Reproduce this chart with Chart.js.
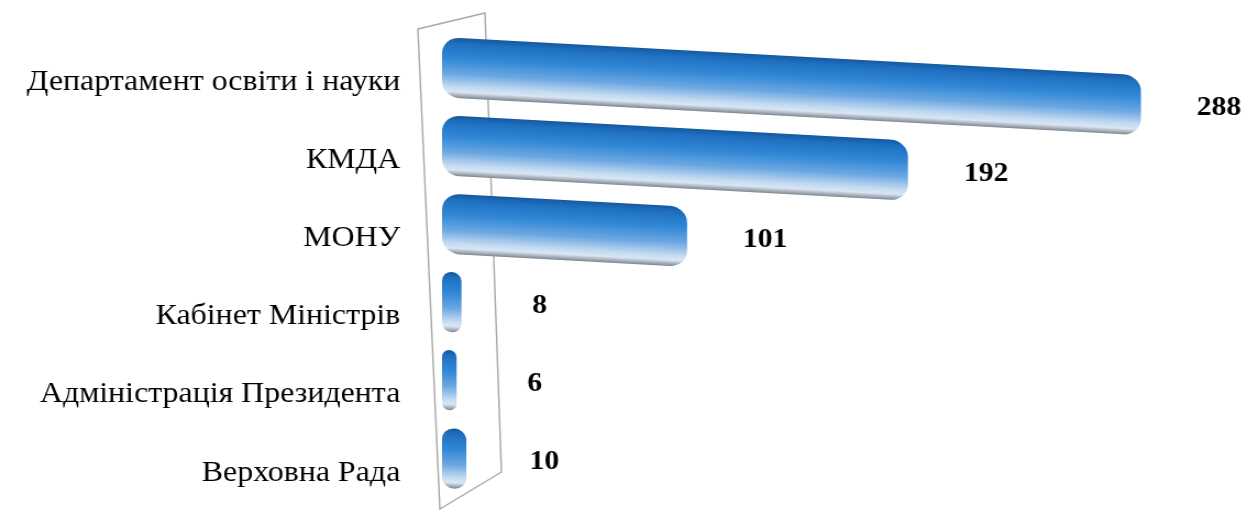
<!DOCTYPE html>
<html>
<head>
<meta charset="utf-8">
<script src="https://cdn.jsdelivr.net/npm/chart.js@4/dist/chart.umd.min.js"></script>
<style>
  html,body{margin:0;padding:0;background:#fff;overflow:hidden;}
  #c{display:block;width:1247px;height:510px;}
</style>
</head>
<body>
<canvas id="c" width="1134" height="510" style="width:1247px;height:510px"></canvas>
<script>
const categories = ["Департамент освіти і науки", "КМДА", "МОНУ", "Кабінет Міністрів", "Адміністрація Президента", "Верховна Рада"];
const values = [288, 192, 101, 8, 6, 10];

const SKEW = 0.06; // perspective-like slope of the bars

const wallPlugin = {
  id: 'wall',
  beforeDatasetsDraw(chart) {
    const ctx = chart.ctx, a = chart.chartArea;
    const L = a.left;
    ctx.save();
    ctx.strokeStyle = '#a8a8a8';
    ctx.lineWidth = 1.4;
    ctx.beginPath();
    ctx.moveTo(L - 22, a.top + 1);
    ctx.lineTo(L + 39, a.top - 15);
    ctx.lineTo(L + 54, a.bottom - 25);
    ctx.lineTo(L - 2, a.bottom + 12);
    ctx.closePath();
    ctx.stroke();
    ctx.restore();
  }
};

const skewPlugin = {
  id: 'skew',
  beforeDatasetsDraw(chart) {
    const ctx = chart.ctx, x0 = chart.chartArea.left;
    ctx.save();
    ctx.transform(1, SKEW, 0, 1, 0, -SKEW * x0);
  },
  afterDatasetsDraw(chart) {
    chart.ctx.restore();
  }
};

const valueLabels = {
  id: 'valueLabels',
  afterDatasetsDraw(chart) {
    const ctx = chart.ctx, x0 = chart.chartArea.left;
    const meta = chart.getDatasetMeta(0);
    ctx.save();
    ctx.font = 'bold 27px "Liberation Serif", "Times New Roman", serif';
    ctx.fillStyle = '#000';
    ctx.textAlign = 'center';
    ctx.textBaseline = 'middle';
    meta.data.forEach((bar, i) => {
      const y = bar.y + SKEW * (bar.x - x0) + 3;
      ctx.fillText(String(values[i]), bar.x + 71, y);
    });
    ctx.restore();
  }
};

function barGradient(context) {
  const chart = context.chart;
  const ys = chart.scales && chart.scales.y;
  if (!ys || context.dataIndex === undefined) return '#3a8ad4';
  const cy = ys.getPixelForValue(context.dataIndex);
  const h = ys.height / categories.length * 0.77;
  if (!isFinite(cy) || !isFinite(h) || h <= 0) return '#3a8ad4';
  const top = cy - h / 2, bot = cy + h / 2;
  const g = chart.ctx.createLinearGradient(0, top, 0, bot);
  g.addColorStop(0, '#1459a0');
  g.addColorStop(0.1, '#1f6fc0');
  g.addColorStop(0.35, '#3188d6');
  g.addColorStop(0.6, '#6aa7e2');
  g.addColorStop(0.82, '#c4daf1');
  g.addColorStop(0.9, '#d9e6f3');
  g.addColorStop(1, '#7d8791');
  return g;
}

new Chart(document.getElementById('c'), {
  type: 'bar',
  data: {
    labels: categories,
    datasets: [{
      data: values,
      backgroundColor: barGradient,
      borderWidth: 0,
      borderRadius: 16,
      borderSkipped: false,
      barPercentage: 0.77,
      categoryPercentage: 1.0
    }]
  },
  options: {
    indexAxis: 'y',
    responsive: false,
    maintainAspectRatio: false,
    animation: false,
    layout: { padding: { top: 28, bottom: 13, right: 70, left: 0 } },
    plugins: { legend: { display: false }, tooltip: { enabled: false } },
    scales: {
      x: {
        min: 0, max: 300,
        display: false,
        grid: { display: false }
      },
      y: {
        grid: { display: false, drawTicks: false },
        border: { display: false },
        afterFit(scale) {
          scale.width = 402;
          scale.paddingTop = 0;
          scale.paddingBottom = 0;
        },
        ticks: {
          color: '#000',
          padding: 38,
          labelOffset: 15,
          font: { family: '"Liberation Serif", "Times New Roman", serif', size: 29 }
        }
      }
    }
  },
  plugins: [wallPlugin, skewPlugin, valueLabels]
});
</script>
</body>
</html>
